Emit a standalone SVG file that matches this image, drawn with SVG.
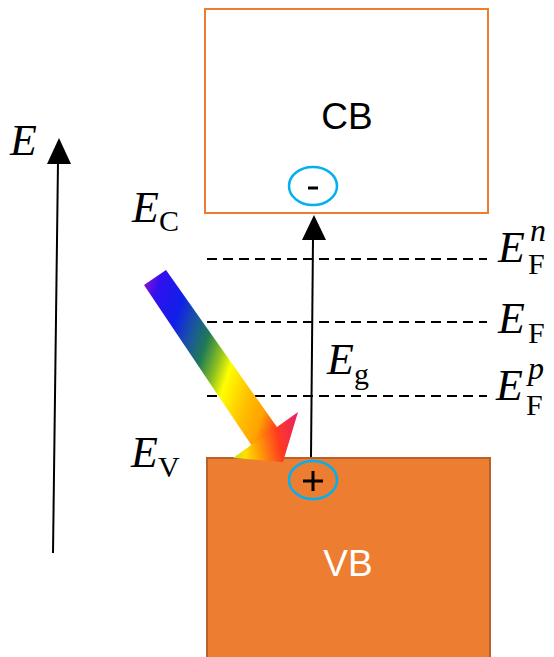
<svg xmlns="http://www.w3.org/2000/svg" width="554" height="657" viewBox="0 0 554 657">
<defs>
<style>
.m{font-family:"Liberation Serif","DejaVu Serif",serif;font-style:italic;fill:#000}
.s{font-family:"Liberation Serif","DejaVu Serif",serif;font-style:normal;fill:#000}
.lbl{font-family:"Liberation Sans","Noto Sans",sans-serif;font-size:37px;text-anchor:middle}
.dash{stroke:#000;stroke-width:2;stroke-dasharray:10 6;fill:none}
.circ{fill:none;stroke:#00B0F0;stroke-width:2.5}
.ln{stroke:#000;stroke-width:2;fill:none}
</style>
<linearGradient id="shaftGrad" gradientUnits="userSpaceOnUse" x1="144" y1="285" x2="306" y2="338">
<stop offset="0" stop-color="#8a10d0"/>
<stop offset="0.08" stop-color="#3010f0"/>
<stop offset="0.24" stop-color="#1020e8"/>
<stop offset="0.35" stop-color="#1a55a0"/>
<stop offset="0.45" stop-color="#1f7a55"/>
<stop offset="0.55" stop-color="#8cc020"/>
<stop offset="0.63" stop-color="#ffff00"/>
<stop offset="0.78" stop-color="#ffc000"/>
<stop offset="0.9" stop-color="#ffa000"/>
<stop offset="1" stop-color="#ff3a20"/>
</linearGradient>
<linearGradient id="headGrad" gradientUnits="userSpaceOnUse" x1="233" y1="458" x2="304" y2="444">
<stop offset="0" stop-color="#c8e010"/>
<stop offset="0.18" stop-color="#ffe000"/>
<stop offset="0.32" stop-color="#ffb000"/>
<stop offset="0.67" stop-color="#ff3a20"/>
<stop offset="1" stop-color="#e8206a"/>
</linearGradient>
</defs>
<rect width="554" height="657" fill="#fff"/>

<g id="CB">
<rect x="205" y="9" width="283" height="204" fill="#fff" stroke="#ED7D31" stroke-width="2"/>
<text class="lbl" x="347" y="129">CB</text>
</g>

<g id="VB">
<rect x="207" y="458" width="283" height="205" fill="#ED7D31" stroke="#B8612A" stroke-width="2"/>
<text class="lbl" x="348" y="576" fill="#fff">VB</text>
</g>

<g id="levels">
<line class="dash" x1="207" y1="259" x2="487" y2="259"/>
<line class="dash" x1="207" y1="322" x2="487" y2="322"/>
<line class="dash" x1="207" y1="396" x2="487" y2="396"/>
</g>

<g id="photon">
<polygon points="144,285 166,270 279,430 252,446" fill="url(#shaftGrad)"/>
<polygon points="233,458 254,443 277,427 298,412 283,462" fill="url(#headGrad)"/>
</g>

<g id="electron">
<ellipse class="circ" cx="313" cy="186" rx="24" ry="19"/>
<line x1="308" y1="188" x2="318" y2="188" stroke="#000" stroke-width="3"/>
</g>

<g id="hole">
<ellipse class="circ" cx="313" cy="480" rx="24" ry="19"/>
<line x1="303" y1="481" x2="323" y2="481" stroke="#000" stroke-width="3"/>
<line x1="313" y1="471" x2="313" y2="491" stroke="#000" stroke-width="3"/>
</g>

<g id="connectors">
<line class="ln" x1="53" y1="553" x2="58" y2="162"/>
<polygon points="59,138 47,164 71,164" fill="#000"/>
<line class="ln" x1="311" y1="457" x2="313" y2="238"/>
<polygon points="314,215 302,240 326,240" fill="#000"/>
</g>

<g id="labels">
<text class="m" x="10" y="155" font-size="44">E</text>
<text x="132" y="222" font-size="44"><tspan class="m">E</tspan><tspan class="s" font-size="30" dy="9">C</tspan></text>
<text x="131" y="467" font-size="44"><tspan class="m">E</tspan><tspan class="s" font-size="30" dy="10">V</tspan></text>
<text x="327" y="374" font-size="44"><tspan class="m">E</tspan><tspan class="s" font-size="30" dy="10">g</tspan></text>
<text class="m" x="498" y="262" font-size="44">E</text>
<text class="s" x="528" y="274" font-size="30">F</text>
<text class="m" x="530" y="241" font-size="32">n</text>
<text class="m" x="498" y="333" font-size="44">E</text>
<text class="s" x="528" y="343" font-size="30">F</text>
<text class="m" x="496" y="400" font-size="44">E</text>
<text class="s" x="526" y="415" font-size="30">F</text>
<text class="m" x="528" y="379" font-size="32">p</text>
</g>
</svg>
